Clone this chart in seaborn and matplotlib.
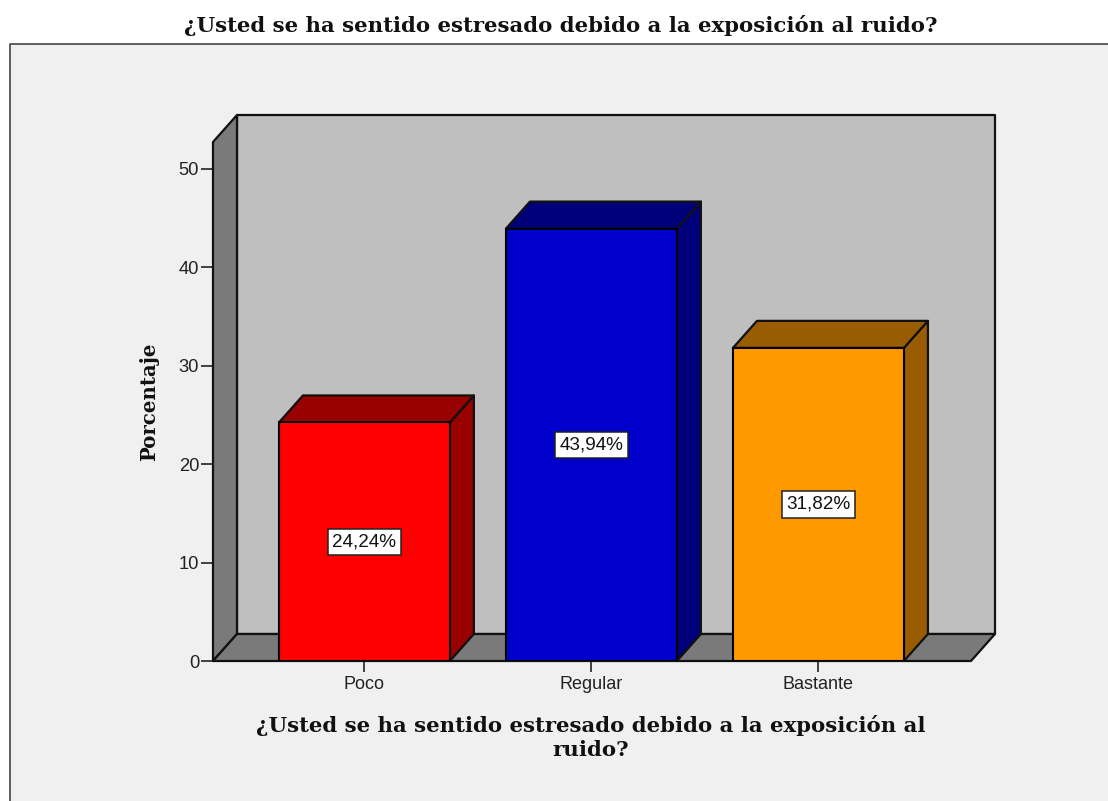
import matplotlib
matplotlib.use('Agg')
import matplotlib.pyplot as plt
import pandas as pd
import seaborn as sns
from matplotlib.patches import Polygon, Rectangle

# Values
categories = ['Poco', 'Regular', 'Bastante']
percentages = [24.24, 43.94, 31.82]
value_labels = ['24,24%', '43,94%', '31,82%']
front_colors = ['#ff0000', '#0000cc', '#ff9900']
top_colors = ['#990000', '#00007a', '#995c00']
y_ticks = [0, 10, 20, 30, 40, 50]
title_text = '¿Usted se ha sentido estresado debido a la exposición al ruido?'
xlabel_text = '¿Usted se ha sentido estresado debido a la exposición al\nruido?'
ylabel_text = 'Porcentaje'

W, H = 1108, 801
serif = 'DejaVu Serif'

sns.set_theme(style='white')
plt.rcParams['font.family'] = ['Liberation Sans', 'DejaVu Sans']

df = pd.DataFrame({'categoria': categories, 'porcentaje': percentages})

fig = plt.figure(figsize=(W / 100, H / 100), dpi=100, facecolor='white')

# Grey chart area with the dark line on the top and left only
fig.add_artist(Rectangle((10 / W, 0), 1 - 10 / W, 1 - 44 / H, transform=fig.transFigure,
                         facecolor='#f0f0f0', edgecolor='none', zorder=-5))
fig.add_artist(plt.Line2D([10 / W, 10 / W, 1], [0, 1 - 44 / H, 1 - 44 / H], color='#444444', linewidth=1.2, zorder=-4))

# Front plane of the 3D box
ax = fig.add_axes([213 / W, 1 - 661 / H, (971 - 213) / W, (661 - 142) / H])
ax.patch.set_visible(False)

sns.barplot(data=df, x='categoria', y='porcentaje', hue='categoria', palette=front_colors,
            saturation=1, width=0.753, edgecolor='black', linewidth=1.5, legend=False, ax=ax, zorder=3)

ax.set_xlim(-0.667, 2.672)
ax.set_ylim(0, 52.74)

# Depth of the fake 3D, in data units
dx = 24 / 227
dy = 27 / 9.84
x0, x1 = ax.get_xlim()
y1 = ax.get_ylim()[1]

def face(points, color, z):
    ax.add_patch(Polygon(points, closed=True, facecolor=color, edgecolor='#111111', linewidth=1.6,
                         clip_on=False, zorder=z, joinstyle='round'))

# Back wall, side wall and floor
face([(x0 + dx, dy), (x1 + dx, dy), (x1 + dx, y1 + dy), (x0 + dx, y1 + dy)], '#bfbfbf', 0.5)
face([(x0, 0), (x0 + dx, dy), (x0 + dx, y1 + dy), (x0, y1)], '#7a7a7a', 0.6)
face([(x0, 0), (x1, 0), (x1 + dx, dy), (x0 + dx, dy)], '#7a7a7a', 0.6)

# Side and top faces of the bars, taken from the drawn bars
for bar, val, col, label in zip(ax.patches, percentages, top_colors, value_labels):
    left = bar.get_x()
    right = left + bar.get_width()
    face([(right, 0), (right + dx, dy), (right + dx, val + dy), (right, val)], col, 2.8)
    face([(left, val), (right, val), (right + dx, val + dy), (left + dx, val + dy)], col, 2.8)
    ax.text(left + bar.get_width() / 2, val / 2, label, ha='center', va='center', fontsize=13.6,
            color='#111111', zorder=5,
            bbox=dict(boxstyle='square,pad=0.25', facecolor='white', edgecolor='#222222', linewidth=1.1))

ax.set_yticks(y_ticks)
ax.set_xlabel('')
ax.set_ylabel('')
ax.tick_params(axis='y', length=9, width=1.3, color='#333333', labelcolor='#222222',
               labelsize=13.2, left=True, pad=1)
ax.tick_params(axis='x', length=8, width=1.3, color='#333333', labelcolor='#222222',
               labelsize=13, bottom=True, pad=3)
sns.despine(ax=ax, left=True, bottom=True, top=True, right=True)

# Titles placed in figure coordinates
fig.text(561 / W, 1 - 26 / H, title_text, ha='center', va='center', family=serif, weight='bold',
         fontsize=15.3, color='#111111')
fig.text(591 / W, 1 - 737 / H, xlabel_text, ha='center', va='center', family=serif, weight='bold',
         fontsize=15.3, color='#111111', linespacing=1.25)
fig.text(149 / W, 1 - 402 / H, ylabel_text, ha='center', va='center', rotation=90, family=serif,
         weight='bold', fontsize=14.2, color='#111111')

fig.savefig('out.png', dpi=100, facecolor=fig.get_facecolor())
